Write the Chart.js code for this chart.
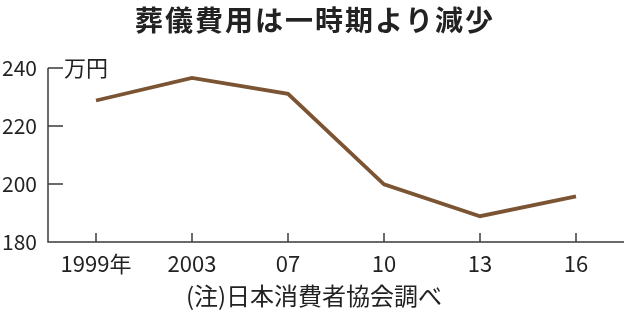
<!DOCTYPE html>
<html>
<head>
<meta charset="utf-8">
<script src="https://cdn.jsdelivr.net/npm/chart.js@4/dist/chart.umd.min.js"></script>
<style>
  html, body { margin: 0; padding: 0; background: #fff; }
  #wrap { position: relative; width: 630px; height: 331px; }
</style>
</head>
<body>
<div id="wrap"><canvas id="cjs" width="630" height="331"></canvas></div>
<script>
// データ（日本消費者協会調べ）
const years = ['1999年', '2003', '07', '10', '13', '16'];
const funeralCost = [228.8, 236.6, 231.1, 199.9, 188.9, 195.7];
const yTicks = [180, 200, 220, 240];

const title = '葬儀費用は一時期より減少';
const unit = '万円';
const source = '(注)日本消費者協会調べ';

const numFont = "'Noto Sans CJK JP', sans-serif";
const jpFont = "'Noto Sans CJK JP', sans-serif";
const axisColor = '#3a3a3a';

// 内向きの目盛りと文字を描く
const decoPlugin = {
    id: 'deco',
    afterDraw(chart) {
        const ctx = chart.ctx;
        const x = chart.scales.x, y = chart.scales.y;
        const area = chart.chartArea;
        ctx.save();
        ctx.strokeStyle = axisColor;
        ctx.lineWidth = 1.5;
        ctx.beginPath();
        // 縦軸・横軸
        ctx.moveTo(area.left, area.top);
        ctx.lineTo(area.left, area.bottom);
        ctx.lineTo(area.right, area.bottom);
        // y目盛り
        yTicks.forEach(v => {
            if (v === 180) return;
            const py = y.getPixelForValue(v);
            ctx.moveTo(area.left, py);
            ctx.lineTo(area.left + 15, py);
        });
        // x目盛り
        years.forEach((c, i) => {
            const px = x.getPixelForTick(i);
            ctx.moveTo(px, area.bottom);
            ctx.lineTo(px, area.bottom - 9);
        });
        ctx.stroke();

        ctx.fillStyle = '#222';
        ctx.textBaseline = 'middle';
        ctx.textAlign = 'center';
        ctx.font = 'bold 28px ' + jpFont;
        ctx.letterSpacing = '2px';
        ctx.fillText(title, 315, 20);
        ctx.letterSpacing = '0px';

        ctx.textAlign = 'left';
        ctx.font = '22px ' + jpFont;
        ctx.fillText(unit, 64, area.top);

        ctx.textAlign = 'center';
        ctx.font = '24px ' + jpFont;
        ctx.fillText(source, 314, 296);
        ctx.restore();
    }
};

const config = {
    type: 'line',
    data: {
        labels: years,
        datasets: [{
            label: '葬儀費用',
            data: funeralCost,
            borderColor: '#7b5434',
            borderWidth: 3.8,
            pointRadius: 0,
            tension: 0,
            fill: false
        }]
    },
    options: {
        responsive: false,
        animation: false,
        layout: { padding: { left: 0, right: 6, top: 68, bottom: 49 } },
        plugins: { legend: { display: false }, tooltip: { enabled: false } },
        scales: {
            x: {
                type: 'category',
                offset: true,
                grid: { display: false, drawTicks: false },
                border: { display: false },
                ticks: {
                    color: '#222',
                    padding: 8,
                    maxRotation: 0,
                    font: { family: numFont, size: 22 }
                },
                afterFit: s => { s.height = 40; }
            },
            y: {
                min: 180,
                max: 240,
                grid: { display: false, drawTicks: false },
                border: { display: false },
                afterBuildTicks: s => { s.ticks = yTicks.map(v => ({ value: v })); },
                ticks: {
                    color: '#222',
                    padding: 11,
                    font: { family: numFont, size: 21 }
                },
                afterFit: s => { s.width = 48; }
            }
        }
    },
    plugins: [decoPlugin]
};

const myChart = new Chart(document.getElementById('cjs'), config);
</script>
</body>
</html>
